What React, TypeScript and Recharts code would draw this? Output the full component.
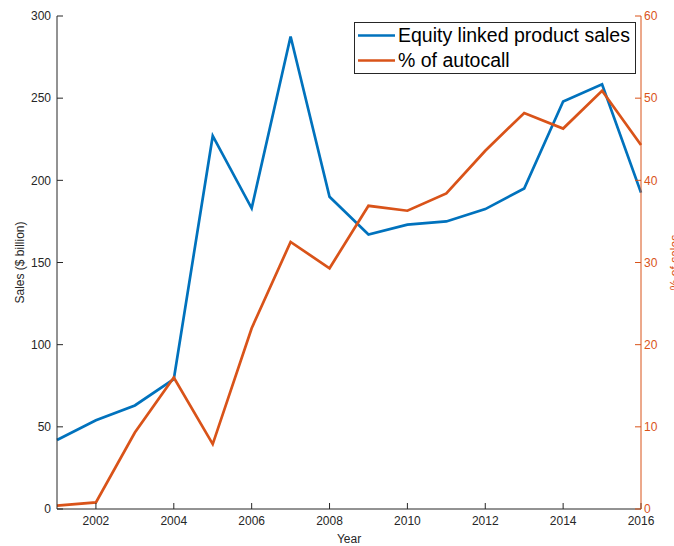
import { LineChart, Line, XAxis, YAxis, Legend } from "recharts";

const years = [2001, 2002, 2003, 2004, 2005, 2006, 2007, 2008, 2009, 2010, 2011, 2012, 2013, 2014, 2015, 2016];
const equitySales = [42, 54, 63, 79, 227, 183, 287.5, 190, 167, 173, 175, 182.5, 195, 248, 258.5, 192.5];
const autocallPct = [0.4, 0.8, 9.3, 16, 7.9, 22, 32.5, 29.3, 36.9, 36.3, 38.4, 43.6, 48.2, 46.3, 50.9, 44.3];

const yearTicks = [2002, 2004, 2006, 2008, 2010, 2012, 2014, 2016];
const salesTicks = [0, 50, 100, 150, 200, 250, 300];
const pctTicks = [0, 10, 20, 30, 40, 50, 60];
const seriesOrder = ["sales", "pct"];

const BLUE = "#0072BD";
const ORANGE = "#D95319";
const AXIS = "#262626";
const FONT = "'Liberation Sans', Arial, Helvetica, sans-serif";

const data = years.map((year, i) => ({
  year,
  sales: equitySales[i],
  pct: autocallPct[i],
}));

const LeftLabel = ({ viewBox }: any) => {
  const x = viewBox.x + 20;
  const y = viewBox.y + viewBox.height / 2;
  return (
    <text x={x} y={y} transform={`rotate(-90 ${x} ${y})`} textAnchor="middle" dominantBaseline="central"
      fontSize={12} fontFamily={FONT} fill={AXIS}>
      Sales ($ billion)
    </text>
  );
};

// cut off by the right edge, same as the original figure
const RightLabel = ({ viewBox }: any) => {
  const x = viewBox.x + viewBox.width + 1;
  const y = viewBox.y + viewBox.height / 2;
  return (
    <text x={x} y={y} transform={`rotate(-90 ${x} ${y})`} textAnchor="middle" dominantBaseline="central"
      fontSize={12} fontFamily={FONT} fill={ORANGE}>
      % of sales
    </text>
  );
};

const BottomLabel = ({ viewBox }: any) => (
  <text x={viewBox.x + viewBox.width / 2} y={viewBox.y + viewBox.height - 3} textAnchor="middle"
    fontSize={12} fontFamily={FONT} fill={AXIS}>
    Year
  </text>
);

// MATLAB-style boxed legend
const BoxLegend = ({ payload }: any) => {
  const items = [...(payload || [])].sort(
    (a: any, b: any) => seriesOrder.indexOf(a.dataKey) - seriesOrder.indexOf(b.dataKey)
  );
  return (
    <div style={{ border: `1px solid ${AXIS}`, background: "#fff", width: 280, fontFamily: FONT, fontSize: 19.5, color: "#000" }}>
      {items.map((p: any) => (
        <div key={p.value} style={{ display: "flex", alignItems: "center", height: 25 }}>
          <svg width={43} height={25} style={{ flex: "none" }}>
            <line x1={3} x2={40} y1={12.5} y2={12.5} stroke={p.color} strokeWidth={2.5} />
          </svg>
          <span style={{ whiteSpace: "nowrap" }}>{p.value}</span>
        </div>
      ))}
    </div>
  );
};

export default function App() {
  const tickStyle = { fill: AXIS, fontSize: 12, fontFamily: FONT };
  return (
    <div style={{ position: "absolute", left: 0, top: 0, background: "#fff" }}>
      <LineChart width={674} height={546} data={data} margin={{ top: 16, right: 0, bottom: 0, left: 0 }}>
        <XAxis dataKey="year" type="number" domain={[2001, 2016]} ticks={yearTicks} interval={0}
          height={37} tickSize={-6} tickMargin={13} stroke={AXIS} tick={tickStyle} label={BottomLabel} />
        <XAxis xAxisId="top" orientation="top" dataKey="year" type="number" domain={[2001, 2016]}
          ticks={yearTicks} interval={0} height={0} tickSize={-6} tick={false} stroke={AXIS} />
        <YAxis yAxisId="left" domain={[0, 300]} ticks={salesTicks} interval={0} width={57}
          tickSize={-6} tickMargin={12} stroke={AXIS} tick={tickStyle} label={LeftLabel} />
        <YAxis yAxisId="right" orientation="right" domain={[0, 60]} ticks={pctTicks} interval={0} width={33}
          tickSize={-6} tickMargin={9} stroke={ORANGE} tick={{ ...tickStyle, fill: ORANGE }} label={RightLabel} />
        <Legend layout="vertical" align="center" verticalAlign="middle" content={BoxLegend}
          wrapperStyle={{ position: "absolute", top: 22, left: 354, width: "auto", height: "auto" }} />
        <Line yAxisId="left" type="linear" dataKey="sales" name="Equity linked product sales" stroke={BLUE}
          strokeWidth={2.7} dot={false} isAnimationActive={false} />
        <Line yAxisId="right" type="linear" dataKey="pct" name="% of autocall" stroke={ORANGE}
          strokeWidth={2.7} dot={false} isAnimationActive={false} />
      </LineChart>
    </div>
  );
}
